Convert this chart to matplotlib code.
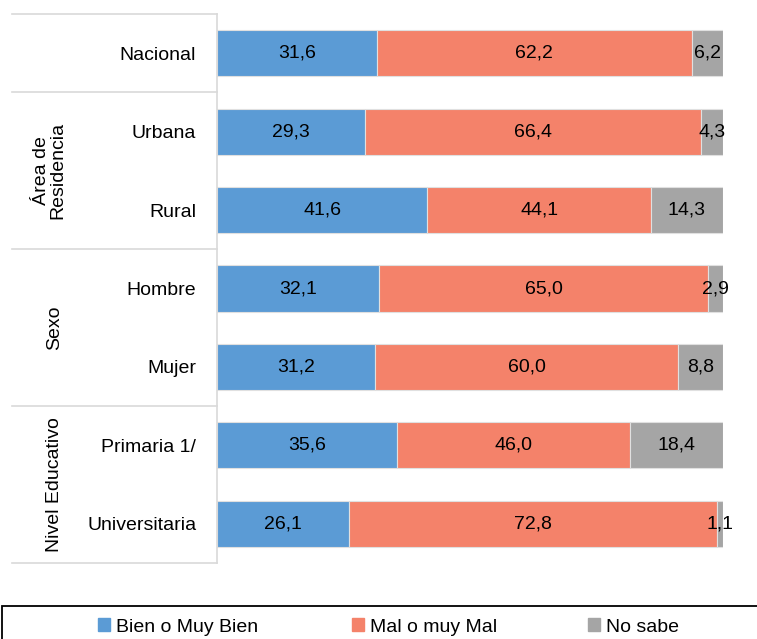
import matplotlib.pyplot as plt
import matplotlib.patches as mpatches
import numpy as np

categorias = ["Nacional", "Urbana", "Rural", "Hombre", "Mujer", "Primaria 1/", "Universitaria"]
bien = [31.6, 29.3, 41.6, 32.1, 31.2, 35.6, 26.1]
mal = [62.2, 66.4, 44.1, 65.0, 60.0, 46.0, 72.8]
no_sabe = [6.2, 4.3, 14.3, 2.9, 8.8, 18.4, 1.1]
series = ["Bien o Muy Bien", "Mal o muy Mal", "No sabe"]
grupos = [("Área de\nResidencia", 1, 2), ("Sexo", 3, 4), ("Nivel Educativo", 5, 6)]
cortes = [-0.5, 0.5, 2.5, 4.5, 6.5]

colores = ["#5B9BD5", "#F4826A", "#A5A5A5"]

plt.rcParams['font.family'] = ['Liberation Sans', 'DejaVu Sans']

fig = plt.figure(figsize=(7.57, 6.39), dpi=100)
W, H = 757, 639
ax = fig.add_axes([217 / W, 1 - 563 / H, 506 / W, 549 / H])

y = np.arange(len(categorias))
izq = np.zeros(len(categorias))
for vals, col in zip([bien, mal, no_sabe], colores):
    vals = np.array(vals)
    ax.barh(y, vals, left=izq, height=0.59, color=col, edgecolor="#e0e0e0", linewidth=0.8)
    for yi, l, v in zip(y, izq, vals):
        ax.text(l + v / 2, yi, f"{v:.1f}".replace(".", ","), ha="center", va="center",
                fontsize=14, color="black")
    izq += vals

ax.set_xlim(0, 100)
ax.set_ylim(6.5, -0.5)
ax.set_yticks(y)
ax.set_yticklabels(categorias, fontsize=14)
ax.tick_params(axis="y", length=0, pad=15)
ax.set_xticks([])
for s in ["top", "right", "bottom"]:
    ax.spines[s].set_visible(False)
ax.spines["left"].set_color("#d9d9d9")
ax.spines["left"].set_linewidth(1.2)

trans = ax.get_yaxis_transform()
x0 = (12 - 217) / 506
for c in cortes:
    ax.plot([x0, 0], [c, c], color="#d9d9d9", lw=1.2, transform=trans, clip_on=False)

for nombre, a, b in grupos:
    xg = (50 - 217) / 506 if "\n" in nombre else (55 - 217) / 506
    ax.text(xg, (a + b) / 2, nombre, rotation=90, ha="center", va="center",
            fontsize=14, transform=trans, linespacing=0.95)

caja = mpatches.Rectangle((2 / W, -0.05), 1.2, (639 - 606) / H + 0.05, transform=fig.transFigure,
                          fill=False, edgecolor="black", linewidth=1.3)
fig.add_artist(caja)

pos_x = [98, 352, 588]
for c, s, px in zip(colores, series, pos_x):
    fig.legend(handles=[mpatches.Patch(color=c, label=s)], loc="center left",
               bbox_to_anchor=(px / W, 1 - 627 / H), frameon=False, fontsize=14,
               handlelength=0.6, handleheight=0.6, handletextpad=0.3,
               borderpad=0, borderaxespad=0)

fig.savefig("out.png", dpi=100)
